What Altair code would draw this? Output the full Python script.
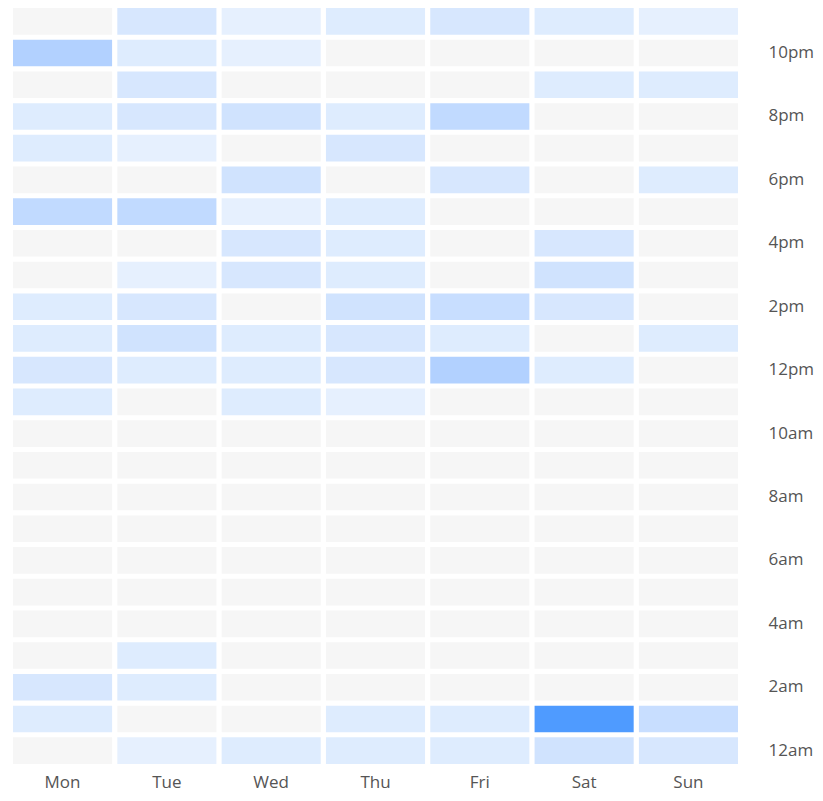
import altair as alt
import pandas as pd

days = ["Mon", "Tue", "Wed", "Thu", "Fri", "Sat", "Sun"]
hour_labels = ["12am", "1am", "2am", "3am", "4am", "5am", "6am", "7am", "8am", "9am", "10am", "11am",
               "12pm", "1pm", "2pm", "3pm", "4pm", "5pm", "6pm", "7pm", "8pm", "9pm", "10pm", "11pm"]

# counts per hour (index 0 = 12am ... 23 = 11pm)
mon = [0, 2, 3, 0, 0, 0, 0, 0, 0, 0, 0, 2, 3, 2, 2, 0, 0, 6, 0, 2, 2, 0, 8, 0]
tue = [1, 0, 2, 2, 0, 0, 0, 0, 0, 0, 0, 0, 2, 4, 3, 1, 0, 6, 0, 1, 3, 3, 2, 3]
wed = [2, 0, 0, 0, 0, 0, 0, 0, 0, 0, 0, 2, 2, 2, 0, 3, 3, 1, 4, 0, 4, 0, 1, 1]
thu = [2, 2, 0, 0, 0, 0, 0, 0, 0, 0, 0, 1, 3, 3, 4, 2, 2, 2, 0, 3, 2, 0, 0, 2]
fri = [2, 2, 0, 0, 0, 0, 0, 0, 0, 0, 0, 0, 8, 2, 5, 0, 0, 0, 3, 0, 6, 0, 0, 3]
sat = [4, 20, 0, 0, 0, 0, 0, 0, 0, 0, 0, 0, 2, 0, 3, 4, 3, 0, 0, 0, 0, 2, 0, 2]
sun = [3, 5, 0, 0, 0, 0, 0, 0, 0, 0, 0, 0, 0, 2, 0, 0, 0, 0, 2, 0, 0, 2, 0, 1]

series = [mon, tue, wed, thu, fri, sat, sun]
rows = []
for d, vals in zip(days, series):
    for h, v in enumerate(vals):
        rows.append({"day": d, "hour": hour_labels[h], "count": v})
df = pd.DataFrame(rows)

font = "Open Sans"

chart = alt.Chart(df).mark_rect().encode(
    x=alt.X("day:N", sort=days,
            scale=alt.Scale(paddingInner=0.05, paddingOuter=0),
            axis=alt.Axis(title=None, orient="bottom", domain=False, ticks=False,
                          labelAngle=0, labelPadding=10, labelFontSize=17,
                          labelColor="#555555", labelFont=font)),
    y=alt.Y("hour:N", sort=list(reversed(hour_labels)),
            scale=alt.Scale(paddingInner=0.16, paddingOuter=0),
            axis=alt.Axis(title=None, orient="right", domain=False, ticks=False,
                          values=hour_labels[0::2], labelPadding=30, labelFontSize=17,
                          labelColor="#555555", labelFont=font, labelAlign="left")),
    color=alt.condition(
        "datum.count > 0",
        alt.Color("count:Q", scale=alt.Scale(domain=[1, 20], range=["#e6f0fe", "#4f9bff"]),
                  legend=None),
        alt.value("#f6f6f6")),
).properties(
    width=725, height=756,
    padding={"left": 5, "top": 0, "right": 0, "bottom": 2},
).configure_view(stroke=None)

chart.save("out.html", embed_options={"renderer": "svg", "actions": False})
